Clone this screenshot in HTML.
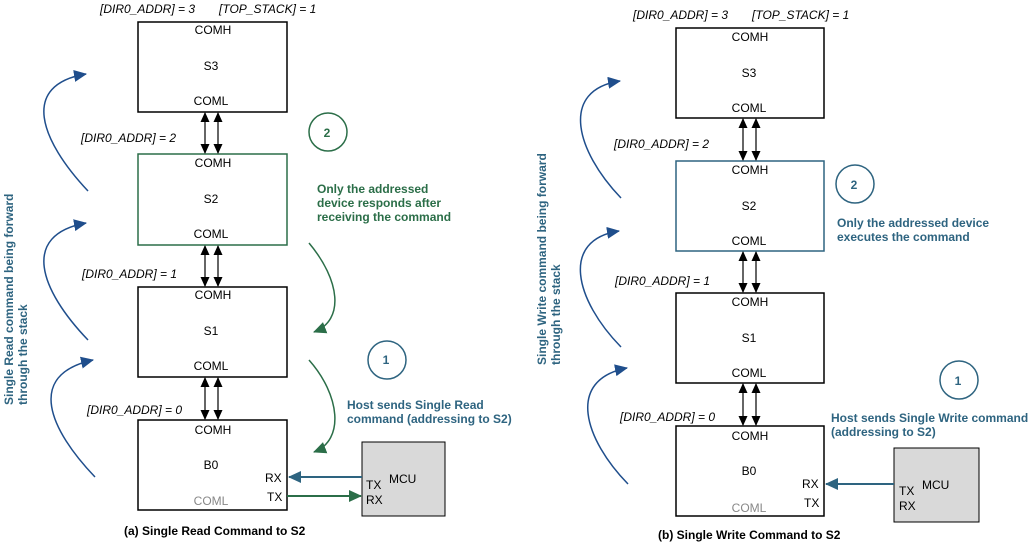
<!DOCTYPE html>
<html><head><meta charset="utf-8"><style>
html,body{margin:0;padding:0;background:#fff;}
svg{display:block;font-family:"Liberation Sans",Arial,sans-serif;}
.t{font-size:12px;fill:#000;}
.i{font-size:12px;font-style:italic;fill:#000;}
.b{font-size:12px;font-weight:bold;}
</style></head><body>
<svg width="1034" height="542" viewBox="0 0 1034 542" xmlns="http://www.w3.org/2000/svg">
<defs>
<marker id="ak" markerWidth="10" markerHeight="10" refX="9" refY="4.5" orient="auto-start-reverse" markerUnits="userSpaceOnUse"><path d="M0,0 L10,4.5 L0,9 z" fill="#000"/></marker>
<marker id="ab" markerWidth="14" markerHeight="12" refX="12" refY="6" orient="auto" markerUnits="userSpaceOnUse"><path d="M0,0 L13,6 L0,12 z" fill="#1f4e8c"/></marker>
<marker id="ag" markerWidth="14" markerHeight="12" refX="12" refY="6" orient="auto" markerUnits="userSpaceOnUse"><path d="M0,0 L13,6 L0,12 z" fill="#2b6e48"/></marker>
<marker id="at" markerWidth="14" markerHeight="12" refX="12" refY="6" orient="auto" markerUnits="userSpaceOnUse"><path d="M0,0 L13,6 L0,12 z" fill="#2e6480"/></marker>
</defs>

<!-- LEFT -->
<text class="i" x="100" y="13">[DIR0_ADDR] = 3</text>
<text class="i" x="219" y="13">[TOP_STACK] = 1</text>
<rect x="138" y="22" width="149" height="90" fill="#fff" stroke="#000" stroke-width="1.5"/>
<text class="t" x="213" y="34" text-anchor="middle">COMH</text>
<text class="t" x="211" y="70" text-anchor="middle">S3</text>
<text class="t" x="211" y="105" text-anchor="middle">COML</text>

<text class="i" x="81" y="142">[DIR0_ADDR] = 2</text>
<rect x="138" y="154" width="149" height="91" fill="#fff" stroke="#2b6e48" stroke-width="1.5"/>
<text class="t" x="213" y="167" text-anchor="middle">COMH</text>
<text class="t" x="211" y="203" text-anchor="middle">S2</text>
<text class="t" x="211" y="238" text-anchor="middle">COML</text>

<text class="i" x="82" y="278">[DIR0_ADDR] = 1</text>
<rect x="138" y="287" width="149" height="90" fill="#fff" stroke="#000" stroke-width="1.5"/>
<text class="t" x="213" y="299" text-anchor="middle">COMH</text>
<text class="t" x="211" y="335" text-anchor="middle">S1</text>
<text class="t" x="211" y="370" text-anchor="middle">COML</text>

<text class="i" x="87" y="414">[DIR0_ADDR] = 0</text>
<rect x="138" y="420" width="149" height="90" fill="#fff" stroke="#000" stroke-width="1.5"/>
<text class="t" x="213" y="434" text-anchor="middle">COMH</text>
<text class="t" x="211" y="469" text-anchor="middle">B0</text>
<text class="t" x="211" y="505" text-anchor="middle" style="fill:#888">COML</text>
<text class="t" x="265" y="482">RX</text>
<text class="t" x="267" y="501">TX</text>

<g stroke="#000" stroke-width="1.2">
<line x1="205" y1="113" x2="205" y2="153" marker-start="url(#ak)" marker-end="url(#ak)"/>
<line x1="218" y1="113" x2="218" y2="153" marker-start="url(#ak)" marker-end="url(#ak)"/>
<line x1="205" y1="246" x2="205" y2="286" marker-start="url(#ak)" marker-end="url(#ak)"/>
<line x1="218" y1="246" x2="218" y2="286" marker-start="url(#ak)" marker-end="url(#ak)"/>
<line x1="205" y1="378" x2="205" y2="419" marker-start="url(#ak)" marker-end="url(#ak)"/>
<line x1="218" y1="378" x2="218" y2="419" marker-start="url(#ak)" marker-end="url(#ak)"/>
</g>

<rect x="362" y="442" width="83" height="74" fill="#d9d9d9" stroke="#000" stroke-width="1"/>
<text class="t" x="389" y="483">MCU</text>
<text class="t" x="366" y="489">TX</text>
<text class="t" x="366" y="504">RX</text>
<line x1="362" y1="477" x2="289" y2="477" stroke="#2e6480" stroke-width="2" marker-end="url(#at)"/>
<line x1="287" y1="496" x2="361" y2="496" stroke="#2b6e48" stroke-width="2" marker-end="url(#ag)"/>

<g fill="none" stroke="#1f4e8c" stroke-width="1.5">
<path d="M88,191 C40,140 20,85 86,74" marker-end="url(#ab)"/>
<path d="M88,340 C40,290 20,235 86,223" marker-end="url(#ab)"/>
<path d="M95,477 C50,430 25,375 93,360" marker-end="url(#ab)"/>
</g>
<g fill="none" stroke="#2b6e48" stroke-width="1.5">
<path d="M309,243 C340,280 345,320 314,332" marker-end="url(#ag)"/>
<path d="M309,360 C340,395 345,440 314,452" marker-end="url(#ag)"/>
</g>

<circle cx="328" cy="132" r="19" fill="none" stroke="#2b6e48" stroke-width="1.5"/>
<text class="b" x="327" y="137" text-anchor="middle" fill="#2b6e48">2</text>
<text class="b" x="317" y="193" fill="#2b6e48">Only the addressed</text>
<text class="b" x="317" y="207" fill="#2b6e48">device responds after</text>
<text class="b" x="317" y="221" fill="#2b6e48">receiving the command</text>

<circle cx="387" cy="360" r="19" fill="none" stroke="#2e6480" stroke-width="1.5"/>
<text class="b" x="386" y="364" text-anchor="middle" fill="#2e6480">1</text>
<text class="b" x="347" y="409" fill="#2e6480">Host sends Single Read</text>
<text class="b" x="347" y="423" fill="#2e6480">command (addressing to S2)</text>

<text class="b" transform="translate(13,405) rotate(-90)" fill="#2e6480">Single Read command being forward</text>
<text class="b" transform="translate(27,405) rotate(-90)" fill="#2e6480">through the stack</text>

<text class="b" x="124" y="535" fill="#000">(a) Single Read Command to S2</text>

<!-- RIGHT -->
<text class="i" x="633" y="19">[DIR0_ADDR] = 3</text>
<text class="i" x="752" y="19">[TOP_STACK] = 1</text>
<rect x="676" y="28" width="148" height="90" fill="#fff" stroke="#000" stroke-width="1.5"/>
<text class="t" x="750" y="41" text-anchor="middle">COMH</text>
<text class="t" x="749" y="77" text-anchor="middle">S3</text>
<text class="t" x="749" y="112" text-anchor="middle">COML</text>

<text class="i" x="614" y="148">[DIR0_ADDR] = 2</text>
<rect x="676" y="161" width="148" height="90" fill="#fff" stroke="#2e6480" stroke-width="1.5"/>
<text class="t" x="750" y="174" text-anchor="middle">COMH</text>
<text class="t" x="749" y="210" text-anchor="middle">S2</text>
<text class="t" x="749" y="245" text-anchor="middle">COML</text>

<text class="i" x="615" y="285">[DIR0_ADDR] = 1</text>
<rect x="676" y="293" width="148" height="90" fill="#fff" stroke="#000" stroke-width="1.5"/>
<text class="t" x="750" y="306" text-anchor="middle">COMH</text>
<text class="t" x="749" y="342" text-anchor="middle">S1</text>
<text class="t" x="749" y="377" text-anchor="middle">COML</text>

<text class="i" x="620" y="421">[DIR0_ADDR] = 0</text>
<rect x="676" y="426" width="148" height="90" fill="#fff" stroke="#000" stroke-width="1.5"/>
<text class="t" x="750" y="440" text-anchor="middle">COMH</text>
<text class="t" x="749" y="475" text-anchor="middle">B0</text>
<text class="t" x="749" y="512" text-anchor="middle" style="fill:#888">COML</text>
<text class="t" x="802" y="488">RX</text>
<text class="t" x="804" y="507">TX</text>

<g stroke="#000" stroke-width="1.2">
<line x1="743" y1="119" x2="743" y2="160" marker-start="url(#ak)" marker-end="url(#ak)"/>
<line x1="756" y1="119" x2="756" y2="160" marker-start="url(#ak)" marker-end="url(#ak)"/>
<line x1="743" y1="252" x2="743" y2="292" marker-start="url(#ak)" marker-end="url(#ak)"/>
<line x1="756" y1="252" x2="756" y2="292" marker-start="url(#ak)" marker-end="url(#ak)"/>
<line x1="743" y1="384" x2="743" y2="425" marker-start="url(#ak)" marker-end="url(#ak)"/>
<line x1="756" y1="384" x2="756" y2="425" marker-start="url(#ak)" marker-end="url(#ak)"/>
</g>

<rect x="894" y="448" width="85" height="74" fill="#d9d9d9" stroke="#000" stroke-width="1"/>
<text class="t" x="922" y="489">MCU</text>
<text class="t" x="899" y="495">TX</text>
<text class="t" x="899" y="510">RX</text>
<line x1="894" y1="484" x2="826" y2="484" stroke="#2e6480" stroke-width="2" marker-end="url(#at)"/>

<g fill="none" stroke="#1f4e8c" stroke-width="1.5">
<path d="M621,198 C575,150 560,90 620,81" marker-end="url(#ab)"/>
<path d="M621,347 C575,300 560,240 619,231" marker-end="url(#ab)"/>
<path d="M628,484 C585,440 565,380 627,368" marker-end="url(#ab)"/>
</g>

<circle cx="855" cy="184" r="19" fill="none" stroke="#2e6480" stroke-width="1.5"/>
<text class="b" x="854" y="189" text-anchor="middle" fill="#2e6480">2</text>
<text class="b" x="837" y="227" fill="#2e6480">Only the addressed device</text>
<text class="b" x="837" y="241" fill="#2e6480">executes the command</text>

<circle cx="959" cy="380" r="19" fill="none" stroke="#2e6480" stroke-width="1.5"/>
<text class="b" x="958" y="385" text-anchor="middle" fill="#2e6480">1</text>
<text class="b" x="831" y="422" fill="#2e6480">Host sends Single Write command</text>
<text class="b" x="831" y="436" fill="#2e6480">(addressing to S2)</text>

<text class="b" transform="translate(546,365) rotate(-90)" fill="#2e6480">Single Write command being forward</text>
<text class="b" transform="translate(560,365) rotate(-90)" fill="#2e6480">through the stack</text>

<text class="b" x="658" y="539" fill="#000">(b) Single Write Command to S2</text>
</svg>
</body></html>
